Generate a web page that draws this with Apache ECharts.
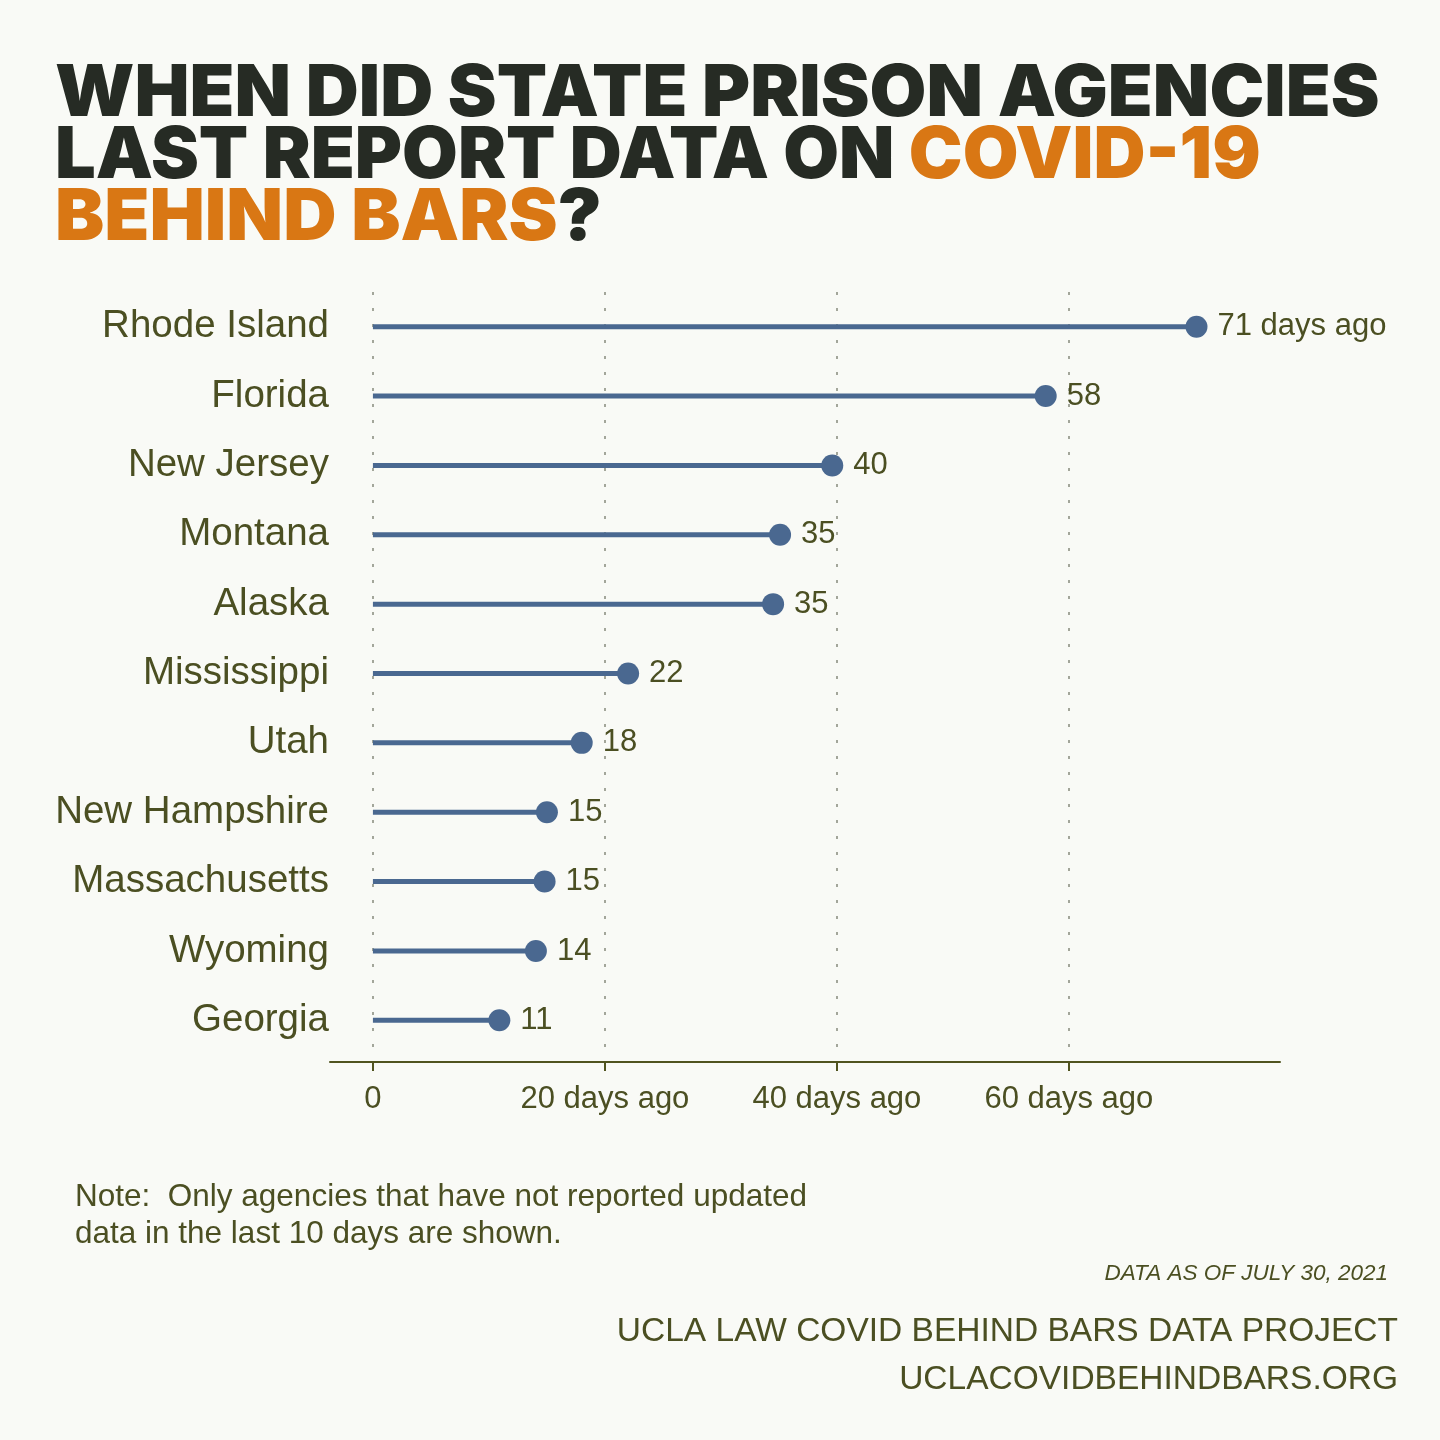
<!DOCTYPE html>
<html><head><meta charset="utf-8">
<script src="https://cdn.jsdelivr.net/npm/echarts@6/dist/echarts.min.js"></script>
<style>html,body{margin:0;padding:0;background:#f9faf6;}#c{width:1440px;height:1440px;}</style>
</head><body><div id="c"></div>
<script>
const states = ['Rhode Island','Florida','New Jersey','Montana','Alaska','Mississippi','Utah','New Hampshire','Massachusetts','Wyoming','Georgia'];
const daysAgo = [71.0, 58.0, 39.6, 35.1, 34.5, 22.0, 18.0, 15.0, 14.8, 14.05, 10.9];
const valueLabels = ['71 days ago','58','40','35','35','22','18','15','15','14','11'];
const tickValues = [0, 20, 40, 60];
const tickLabels = ['0','20 days ago','40 days ago','60 days ago'];

const OLIVE = '#4b4f22';
const BLUE = '#4a6890';
const DARK = '#262b24';
const ORANGE = '#d97714';
const FONT = '"Liberation Sans", Arial, sans-serif';

const chart = echarts.init(document.getElementById('c'));
chart.setOption({
  backgroundColor: '#f9faf6',
  textStyle: {fontFamily: FONT},
  grid: {left: 330, right: 160, top: 292, height: 763},
  xAxis: {
    type: 'value', min: -3.7, max: 78.2, offset: 7,
    axisLine: {show: true, lineStyle: {color: '#50541f', width: 2}},
    axisTick: {show: true, customValues: tickValues, length: 9, lineStyle: {color: '#50541f', width: 2}},
    axisLabel: {customValues: tickValues, margin: 22, fontSize: 31, color: OLIVE, fontFamily: FONT,
      formatter: v => tickLabels[tickValues.indexOf(v)]},
    splitLine: {show: true, lineStyle: {type: [3, 13], color: '#a3a69a', width: 2}}
  },
  yAxis: {
    type: 'category', data: states, inverse: true,
    axisLine: {show: false}, axisTick: {show: false},
    axisLabel: {fontSize: 38.5, color: OLIVE, fontFamily: FONT, margin: 1, padding: [0, 0, 9, 0]}
  },
  series: [
    {type: 'bar', data: daysAgo, barWidth: 5, itemStyle: {color: BLUE}, silent: true, z: 2},
    {type: 'scatter', data: daysAgo, symbolSize: 22, itemStyle: {color: BLUE, opacity: 1}, z: 3,
      label: {show: true, position: 'right', distance: 10, fontSize: 31, color: OLIVE, fontFamily: FONT,
        formatter: p => valueLabels[p.dataIndex]}}
  ],
  graphic: [
    {type: 'group', left: 55, top: 58, children: [
      {type: 'text', x: 0, y: 0, scaleX: 1.02, style: {text: 'WHEN DID STATE PRISON AGENCIES', fontFamily: 'Inter', fontWeight: 900, fontSize: 72, fill: DARK}},
      {type: 'text', x: 0, y: 62, style: {text: '{d|LAST REPORT DATA ON }{o|COVID-19}', rich: {
        d: {fill: DARK, fontFamily: 'Inter', fontWeight: 900, fontSize: 72},
        o: {fill: ORANGE, fontFamily: 'Inter', fontWeight: 900, fontSize: 72}}}},
      {type: 'text', x: 0, y: 124, scaleX: 1.025, style: {text: '{o|BEHIND BARS}{d|?}', rich: {
        d: {fill: DARK, fontFamily: 'Inter', fontWeight: 900, fontSize: 72},
        o: {fill: ORANGE, fontFamily: 'Inter', fontWeight: 900, fontSize: 72}}}}
    ]},
    {type: 'text', left: 75, top: 1179, style: {text: 'Note:  Only agencies that have not reported updated\ndata in the last 10 days are shown.', fontSize: 31.5, lineHeight: 37, fill: OLIVE, fontFamily: FONT}},
    {type: 'text', right: 52, top: 1262, style: {text: 'DATA AS OF JULY 30, 2021', fontSize: 22.5, fontStyle: 'italic', fill: OLIVE, fontFamily: FONT}},
    {type: 'text', right: 42, top: 1315, style: {text: 'UCLA LAW COVID BEHIND BARS DATA PROJECT', fontSize: 33.5, fill: OLIVE, fontFamily: FONT}},
    {type: 'text', right: 42, top: 1363, style: {text: 'UCLACOVIDBEHINDBARS.ORG', fontSize: 33.5, fill: OLIVE, fontFamily: FONT}}
  ]
});
</script></body></html>
